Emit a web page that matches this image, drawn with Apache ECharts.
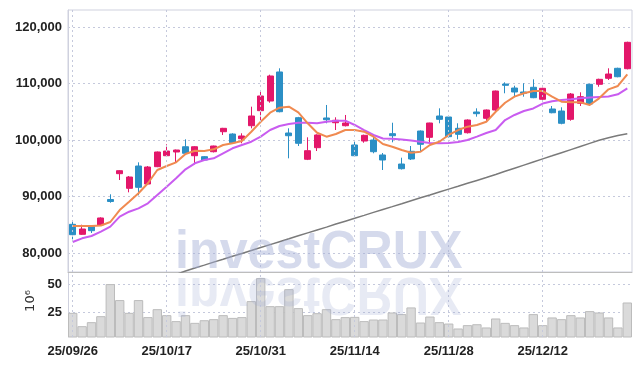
<!DOCTYPE html>
<html>
<head>
<meta charset="utf-8">
<script src="https://cdn.jsdelivr.net/npm/echarts@6/dist/echarts.min.js"></script>
<style>
  html, body { margin: 0; padding: 0; background: #fff; }
  #chart { width: 642px; height: 366px; }
</style>
</head>
<body>
<div id="chart"></div>
<script>
// 일자
const dates = [
  '25/09/26', '25/09/29', '25/09/30', '25/10/01', '25/10/02', '25/10/10', '25/10/13', '25/10/14', '25/10/15', '25/10/16',
  '25/10/17', '25/10/20', '25/10/21', '25/10/22', '25/10/23', '25/10/24', '25/10/27', '25/10/28', '25/10/29', '25/10/30',
  '25/10/31', '25/11/03', '25/11/04', '25/11/05', '25/11/06', '25/11/07', '25/11/10', '25/11/11', '25/11/12', '25/11/13',
  '25/11/14', '25/11/17', '25/11/18', '25/11/19', '25/11/20', '25/11/21', '25/11/24', '25/11/25', '25/11/26', '25/11/27',
  '25/11/28', '25/12/01', '25/12/02', '25/12/03', '25/12/04', '25/12/05', '25/12/08', '25/12/09', '25/12/10', '25/12/11',
  '25/12/12', '25/12/15', '25/12/16', '25/12/17', '25/12/18', '25/12/19', '25/12/22', '25/12/23', '25/12/24', '25/12/26'
]
const opens = [
  85080, 83310, 84660, 84960, 89470, 94040, 91450, 95400, 92210, 95280,
  97220, 97880, 98810, 97220, 97050, 97930, 101470, 101060, 100230, 102530,
  105190, 106900, 112040, 101240, 103950, 96590, 98640, 103900, 103060, 102530,
  99120, 99820, 100000, 97350, 101120, 95750, 98000, 101590, 100480, 104250,
  104070, 102070, 101290, 104960, 103840, 105310, 109910, 109200, 108500, 109330,
  107210, 105490, 105130, 103660, 106500, 109860, 109860, 110920, 112690, 112620
]
const closes = [
  83240, 84250, 83950, 86200, 89120, 94570, 93450, 91630, 95220, 97880,
  98050, 98230, 97650, 98810, 96460, 98940, 102070, 99520, 100710, 104250,
  107790, 111330, 105010, 100760, 99420, 98110, 100890, 103590, 103490, 103010,
  97220, 100830, 97930, 96460, 100760, 94920, 96640, 99240, 103010, 103660,
  100590, 101010, 103540, 104660, 105310, 108670, 109680, 108500, 108270, 107490,
  109150, 104830, 102960, 108140, 107670, 106370, 110740, 111680, 111200, 117290
]
const lows = [
  82420, 83200, 83540, 84900, 88900, 92920, 90740, 90210, 92100, 95200,
  96990, 96050, 97550, 95700, 96350, 97800, 100890, 99380, 99420, 102070,
  103540, 106600, 104900, 96760, 98940, 96450, 98050, 102960, 101770, 102400,
  97100, 99520, 97650, 94690, 99590, 94780, 96460, 97930, 99420, 102960,
  100440, 100120, 101150, 104130, 103240, 104830, 108270, 107670, 107670, 107400,
  107100, 104730, 102780, 103420, 106020, 106070, 109430, 110620, 111100, 112500
]
const highs = [
  85720, 85010, 84780, 86320, 90390, 94640, 93630, 96050, 95400, 97960,
  99240, 98300, 100120, 98900, 97150, 99000, 102150, 101190, 101190, 105900,
  108730, 111560, 112690, 102070, 104100, 100480, 101000, 106200, 104020, 104430,
  99700, 100950, 100890, 97700, 103060, 96870, 98940, 101700, 103060, 105610,
  104200, 102960, 103650, 105610, 105400, 108750, 110210, 109610, 110040, 110740,
  109250, 106020, 105790, 108320, 108440, 109950, 110850, 112690, 112800, 117400
]
// 이동평균
const ma5 = [
  84780, 84780, 84780, 84870, 85490, 87610, 89080, 90570, 92340, 94690,
  95400, 96050, 97520, 98110, 98050, 98350, 99120, 99420, 99820, 101470,
  103240, 104830, 105720, 105900, 104900, 102960, 101290, 100590, 101060, 101770,
  101770, 101470, 100590, 99290, 98810, 98230, 97750, 97930, 99120, 99700,
  100890, 101770, 102360, 102660, 103240, 105010, 106600, 107670, 108270, 108670,
  108670, 107670, 106780, 106670, 106670, 106200, 107380, 108970, 109560, 111630
]
const ma20 = [
  81950, 82600, 83010, 83770, 84660, 86430, 87310, 87910, 88800, 90270,
  91740, 93220, 94810, 95880, 96460, 96760, 97650, 98530, 99120, 99700,
  100590, 101770, 102480, 102830, 103060, 103060, 102960, 103240, 103420, 103420,
  102660, 101770, 100890, 100270, 100230, 100090, 99910, 99700, 99470, 99420,
  99470, 99650, 100000, 100590, 101240, 101770, 103540, 104430, 105130, 105580,
  106460, 106850, 107080, 107220, 107400, 107520, 107610, 107700, 108090, 109150
]
const ma60 = [
  '-', '-', '-', '-', '-', '-', '-', '-', '-', '-',
  '-', 76200, 76830, 77340, 77860, 78390, 78900, 79420, 79930, 80440,
  80970, 81490, 82000, 82510, 83040, 83560, 84070, 84580, 85120, 85630,
  86140, 86660, 87190, 87700, 88210, 88730, 89260, 89770, 90280, 90800,
  91310, 91820, 92340, 92850, 93360, 93890, 94460, 95010, 95560, 96110,
  96660, 97200, 97750, 98300, 98850, 99400, 99950, 100390, 100780, 101120
]
// 거래량 (백만)
const volumes = [
  25.0, 13.4, 16.9, 22.1, 50.0, 36.1, 25.0, 36.1, 21.3, 28.2,
  23.0, 17.8, 23.0, 16.3, 18.6, 19.5, 23.0, 20.6, 21.3, 35.2,
  55.2, 30.8, 30.8, 45.6, 29.1, 23.0, 24.7, 28.2, 19.5, 21.3,
  21.5, 17.8, 19.2, 19.2, 25.3, 23.9, 29.7, 16.6, 21.8, 16.9,
  15.7, 11.4, 14.3, 15.1, 12.3, 20.1, 16.3, 14.3, 12.3, 23.9,
  14.3, 21.0, 19.5, 23.0, 21.0, 26.5, 25.3, 21.0, 12.3, 34.0
]
const priceTicks = [80000, 120000, 10000] // min, max, interval
const volumeTicks = [25, 50, 25]

const labelFont = "'Liberation Sans', Arial, sans-serif"
const gridColor = '#c5c9dc'

let candles = dates.map((d, i) => [opens[i], closes[i], lows[i], highs[i]])
// 세로 점선 (10일 간격)
let vLines = dates.filter((d, i) => i % 10 === 0).map(d => ({ xAxis: d }))
let vLineStyle = { color: gridColor, type: [2, 3], width: 1 }

let myChart = echarts.init(document.getElementById('chart'))
myChart.setOption({
  animation: false,
  backgroundColor: '#fff',
  grid: [
    { left: 68, top: 10, width: 564, height: 262, show: true, borderColor: '#cfd1de', borderWidth: 1 },
    { left: 68, top: 27, width: 564, height: 226 },
    { left: 68, top: 272, width: 564, height: 65 },
    { left: 68, top: 284, width: 564, height: 28.7 }
  ],
  xAxis: [
    {
      type: 'category', gridIndex: 0, data: dates,
      axisLine: { show: true, lineStyle: { color: '#bdbdbd' } },
      axisTick: { show: false }, axisLabel: { show: false }, splitLine: { show: false }
    },
    { type: 'value', gridIndex: 1, show: false, min: 0, max: 1 },
    {
      type: 'category', gridIndex: 2, data: dates,
      axisLine: { show: false },
      axisTick: { show: false },
      axisLabel: {
        interval: 9, margin: 8,
        color: '#222', fontSize: 13, fontWeight: 'bold', fontFamily: labelFont
      },
      splitLine: { show: false }
    },
    { type: 'value', gridIndex: 3, show: false, min: 0, max: 1 }
  ],
  yAxis: [
    {
      type: 'value', gridIndex: 0, min: 76640, max: 123010,
      axisLine: { show: true, lineStyle: { color: '#cfd1de' } },
      axisTick: { show: false }, axisLabel: { show: false }, splitLine: { show: false }
    },
    {
      type: 'value', gridIndex: 1, min: priceTicks[0], max: priceTicks[1], interval: priceTicks[2],
      axisLine: { show: false }, axisTick: { show: false },
      axisLabel: {
        margin: 6, color: '#222', fontSize: 13, fontWeight: 'bold', fontFamily: labelFont,
        formatter: v => v.toLocaleString('en-US')
      },
      splitLine: { show: true, lineStyle: vLineStyle }
    },
    {
      type: 'value', gridIndex: 2, min: 4, max: 60.5,
      axisLine: { show: true, lineStyle: { color: '#cfd1de' } },
      axisTick: { show: false }, axisLabel: { show: false }, splitLine: { show: false }
    },
    {
      type: 'value', gridIndex: 3, min: volumeTicks[0], max: volumeTicks[1], interval: volumeTicks[2],
      axisLine: { show: false }, axisTick: { show: false },
      axisLabel: { margin: 6, color: '#222', fontSize: 13, fontWeight: 'bold', fontFamily: labelFont },
      splitLine: { show: true, lineStyle: vLineStyle }
    }
  ],
  series: [
    {
      type: 'candlestick', xAxisIndex: 0, yAxisIndex: 0,
      data: candles,
      barWidth: '70%',
      itemStyle: {
        color: '#e3176a', color0: '#2b8fc5',
        borderColor: '#e3176a', borderColor0: '#2b8fc5', borderWidth: 1
      },
      markLine: { silent: true, symbol: 'none', label: { show: false }, lineStyle: vLineStyle, data: vLines }
    },
    {
      type: 'line', xAxisIndex: 0, yAxisIndex: 0, data: ma60,
      symbol: 'none', lineStyle: { color: '#7a7a7a', width: 1.5 }
    },
    {
      type: 'line', xAxisIndex: 0, yAxisIndex: 0, data: ma20,
      symbol: 'none', lineStyle: { color: '#c95cf0', width: 2 }
    },
    {
      type: 'line', xAxisIndex: 0, yAxisIndex: 0, data: ma5,
      symbol: 'none', lineStyle: { color: '#f08a50', width: 2 }
    },
    {
      type: 'bar', xAxisIndex: 2, yAxisIndex: 2, data: volumes,
      barCategoryGap: '0%',
      itemStyle: { color: '#dadada', borderColor: '#bcbcbc', borderWidth: 1 },
      markLine: { silent: true, symbol: 'none', label: { show: false }, lineStyle: vLineStyle, data: vLines }
    }
  ],
  graphic: [
    {
      type: 'text', x: 31, y: 301, rotation: Math.PI / 2,
      style: { text: '10⁶', align: 'center', verticalAlign: 'middle', fill: '#333', font: '13px "DejaVu Sans", sans-serif' }
    },
    {
      type: 'text', x: 175, y: 253, z: 100,
      style: {
        text: 'investCRUX', verticalAlign: 'middle', fill: '#a1acd5', opacity: 0.45,
        font: 'bold 54px "Liberation Sans", sans-serif'
      },
      scaleX: 0.93
    },
    {
      type: 'text', x: 175, y: 293, z: 100, scaleY: -1,
      style: {
        text: 'investCRUX', verticalAlign: 'middle', fill: '#a1acd5', opacity: 0.25,
        font: 'bold 54px "Liberation Sans", sans-serif'
      },
      scaleX: 0.93
    }
  ]
})
</script>
</body>
</html>
